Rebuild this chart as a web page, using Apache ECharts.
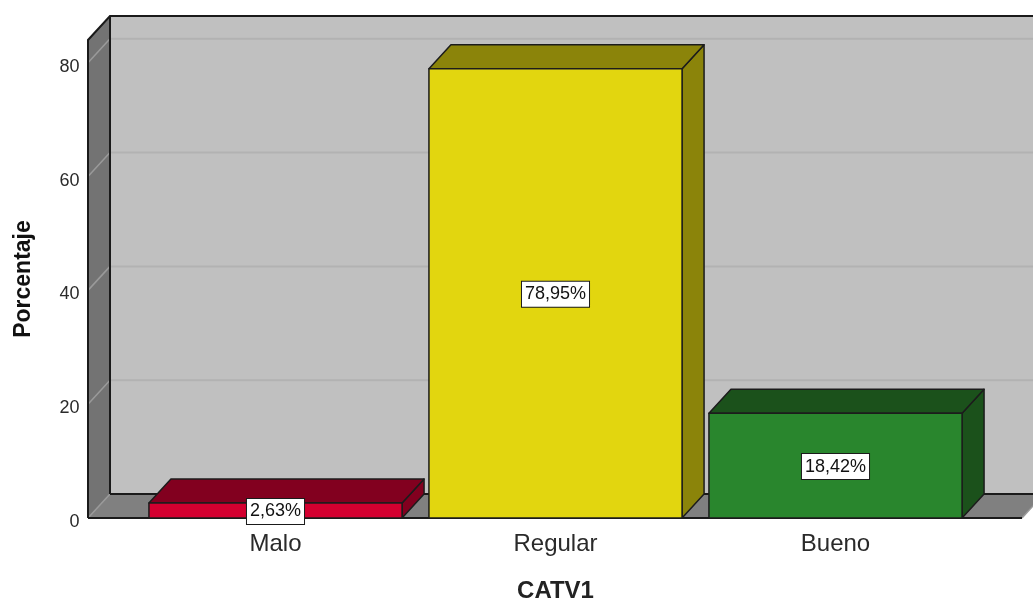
<!DOCTYPE html>
<html>
<head>
<meta charset="utf-8">
<style>
  html, body { margin: 0; padding: 0; background: #ffffff; overflow: hidden; }
  #chart { width: 1033px; height: 601px; }
</style>
<script src="https://cdn.jsdelivr.net/npm/echarts@6/dist/echarts.min.js"></script>
</head>
<body>
<div id="chart"></div>
<script>
// Categories of CATV1 and their share (%)
const categories = ['Malo', 'Regular', 'Bueno'];
const percentages = [2.63, 78.95, 18.42];
const yTicks = [0, 20, 40, 60, 80];

// Face colours of each box: front face and darker top / side faces
const palette = [
  { front: '#d40030', shade: '#82001f' },
  { front: '#e2d60f', shade: '#8b840a' },
  { front: '#29862d', shade: '#1b511b' }
];

// Depth of the pseudo-3D box (pixels to the right and up)
const DX = 22, DY = 24;
// The floor reaches past the outer category bands on both sides
const SIDE_PAD_LEFT = 47.5, SIDE_PAD_RIGHT = 46.5;
const FONT = '"Liberation Sans", Arial, sans-serif';

function fmtPct(v) {
  return v.toFixed(2).replace('.', ',') + '%';
}

// Walls, floor and gridlines of the chart box
function renderFrame(params, api) {
  const cs = params.coordSys;
  const xL = cs.x - SIDE_PAD_LEFT;
  const xR = cs.x + cs.width + SIDE_PAD_RIGHT;
  const yTop = cs.y;
  const y0 = api.coord([0, 0])[1];
  const edge = '#1a1a1a';
  const children = [];

  // back wall
  children.push({ type: 'rect', shape: { x: xL + DX, y: yTop - DY, width: xR - xL + 2, height: y0 - yTop },
    style: { fill: '#c0c0c0' } });
  // left wall
  children.push({ type: 'polygon', shape: { points: [[xL, yTop], [xL + DX, yTop - DY], [xL + DX, y0 - DY], [xL, y0]] },
    style: { fill: '#737373' } });
  // gridlines on both walls
  yTicks.forEach(function (t) {
    if (t === 0) return;
    const y = api.coord([0, t])[1];
    children.push({ type: 'line', shape: { x1: xL + DX, y1: y - DY, x2: xR + DX + 2, y2: y - DY },
      style: { stroke: '#b2b2b2', lineWidth: 2 } });
    children.push({ type: 'line', shape: { x1: xL, y1: y, x2: xL + DX, y2: y - DY },
      style: { stroke: '#9a9a9a', lineWidth: 1.5 } });
  });
  // floor
  children.push({ type: 'polygon', shape: { points: [[xL, y0], [xL + DX, y0 - DY], [xR + DX, y0 - DY], [xR, y0]] },
    style: { fill: '#808080' } });
  children.push({ type: 'line', shape: { x1: xL, y1: y0, x2: xL + DX, y2: y0 - DY },
    style: { stroke: '#9a9a9a', lineWidth: 1.5 } });
  children.push({ type: 'line', shape: { x1: xR, y1: y0, x2: xR + DX, y2: y0 - DY },
    style: { stroke: '#9a9a9a', lineWidth: 1.5 } });
  // outlines
  children.push({ type: 'polyline', shape: { points: [[xL, y0], [xL, yTop], [xL + DX, yTop - DY], [xR + DX + 2, yTop - DY]] },
    style: { stroke: edge, lineWidth: 2, fill: null } });
  children.push({ type: 'line', shape: { x1: xL + DX, y1: yTop - DY, x2: xL + DX, y2: y0 - DY },
    style: { stroke: edge, lineWidth: 2 } });
  children.push({ type: 'line', shape: { x1: xL + DX, y1: y0 - DY, x2: xR + DX + 2, y2: y0 - DY },
    style: { stroke: edge, lineWidth: 2 } });
  children.push({ type: 'line', shape: { x1: xL, y1: y0, x2: xR, y2: y0 },
    style: { stroke: edge, lineWidth: 2 } });

  return { type: 'group', children: children };
}

// One pseudo-3D box per category with its value label
function renderBox(params, api) {
  const i = api.value(0);
  const v = api.value(1);
  const base = api.coord([i, 0]);
  const top = api.coord([i, v]);
  const w = api.size([1, 0])[0] * 0.904;
  const x = base[0] - w / 2;
  const yb = base[1];
  const yt = top[1];
  const c = palette[i];
  const edge = { stroke: '#1c1c1c', lineWidth: 1.5, lineJoin: 'round' };
  return {
    type: 'group',
    children: [
      { type: 'polygon', shape: { points: [[x + w, yt], [x + w + DX, yt - DY], [x + w + DX, yb - DY], [x + w, yb]] },
        style: Object.assign({ fill: c.shade }, edge) },
      { type: 'polygon', shape: { points: [[x, yt], [x + DX, yt - DY], [x + w + DX, yt - DY], [x + w, yt]] },
        style: Object.assign({ fill: c.shade }, edge) },
      { type: 'rect', shape: { x: x, y: yt, width: w, height: yb - yt },
        style: Object.assign({ fill: c.front }, edge) },
      { type: 'text', z2: 10,
        style: {
          text: fmtPct(v), x: base[0], y: (yt + yb) / 2 + 1,
          align: 'center', verticalAlign: 'middle',
          fill: '#111', font: '18px ' + FONT,
          backgroundColor: '#ffffff', borderColor: '#1a1a1a', borderWidth: 1,
          padding: [4, 3, 3, 3]
        } }
    ]
  };
}

const chart = echarts.init(document.getElementById('chart'), null, { renderer: 'canvas', width: 1033, height: 601 });
chart.setOption({
  backgroundColor: '#ffffff',
  animation: false,
  grid: { left: 135.5, width: 840, top: 40, height: 478, containLabel: false, outerBoundsMode: 'none' },
  xAxis: {
    type: 'category',
    data: categories,
    name: 'CATV1',
    nameLocation: 'middle',
    nameGap: 61,
    nameTextStyle: { fontFamily: FONT, fontSize: 24, fontWeight: 'bold', color: '#222' },
    axisLine: { show: false },
    axisTick: { show: false },
    splitLine: { show: false },
    axisLabel: { fontFamily: FONT, fontSize: 24, color: '#2a2a2a', margin: 14 }
  },
  yAxis: {
    type: 'value',
    min: 0,
    max: 84,
    interval: 20,
    name: 'Porcentaje',
    nameLocation: 'middle',
    nameGap: 100,
    nameTextStyle: { fontFamily: FONT, fontSize: 23, fontWeight: 'bold', color: '#111' },
    axisLine: { show: false },
    axisTick: { show: false },
    splitLine: { show: false },
    axisLabel: {
      fontFamily: FONT, fontSize: 18, color: '#2a2a2a', margin: 56,
      verticalAlign: 'top', lineHeight: 8,
      formatter: function (v) { return yTicks.indexOf(v) >= 0 ? String(v) : ''; }
    }
  },
  series: [
    {
      type: 'custom',
      z: 1,
      silent: true,
      renderItem: renderFrame,
      data: [[0, 0]],
      encode: { x: 0, y: 1 }
    },
    {
      type: 'custom',
      z: 2,
      renderItem: renderBox,
      data: percentages.map(function (v, i) { return [i, v]; }),
      encode: { x: 0, y: 1 }
    }
  ]
});
</script>
</body>
</html>
